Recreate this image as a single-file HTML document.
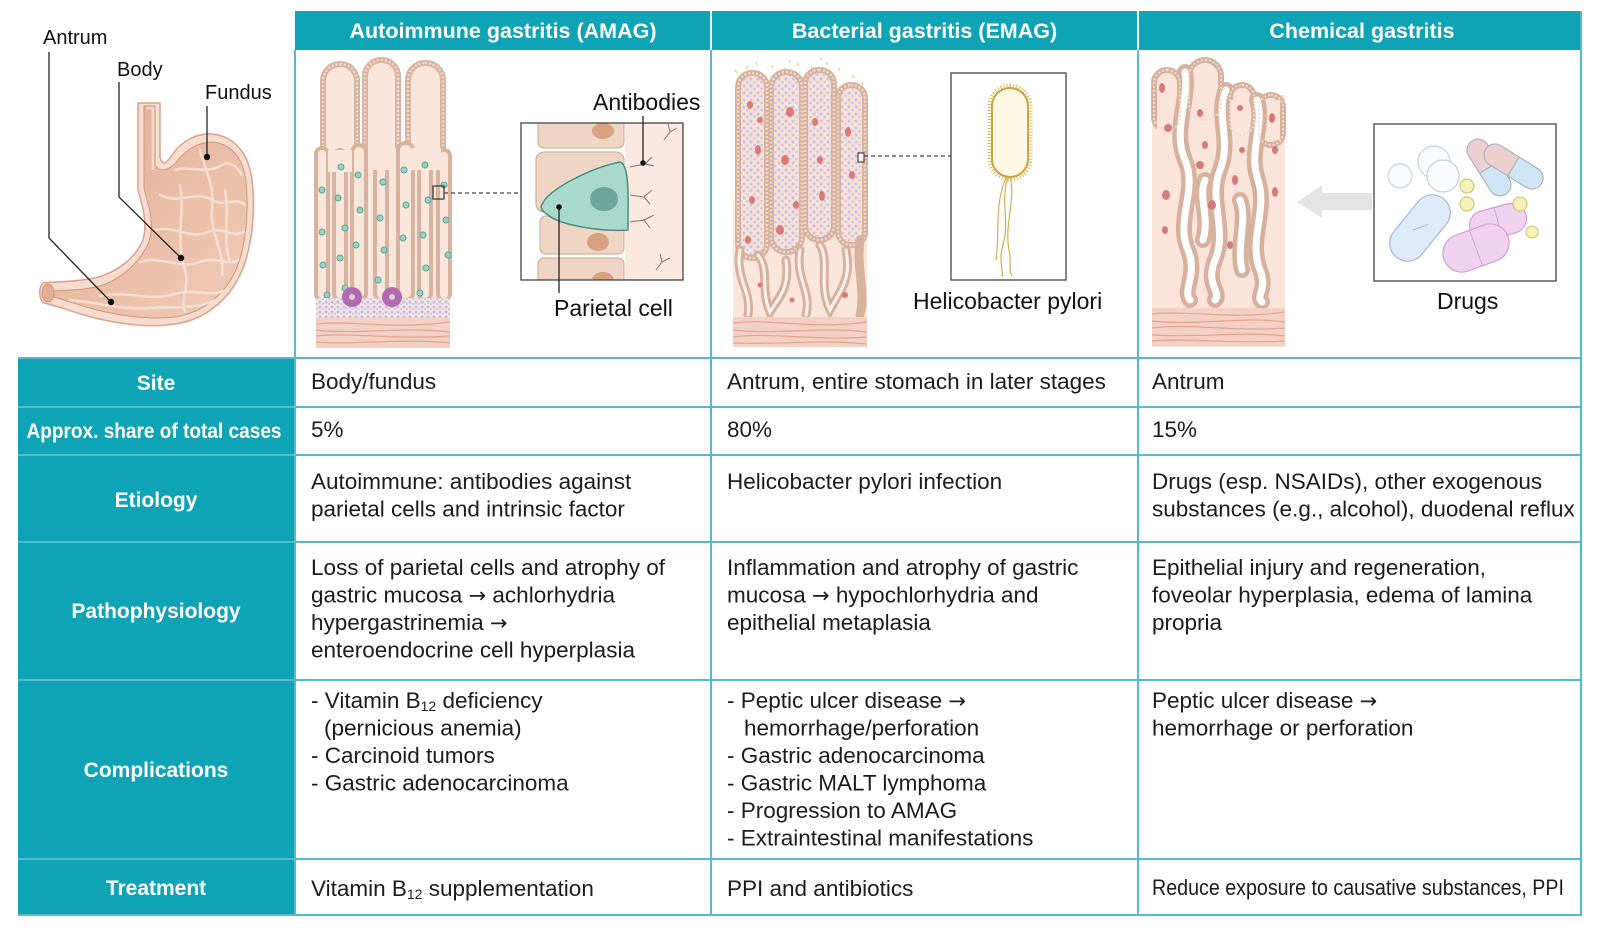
<!DOCTYPE html>
<html><head><meta charset="utf-8">
<style>
html,body{margin:0;padding:0;background:#fff;}
svg{display:block;}
text{font-family:"Liberation Sans",sans-serif;}
.b{font-size:22.5px;fill:#1c1c1c;}
.h{font-size:21.5px;font-weight:bold;fill:#fff;}
.l{font-size:21px;font-weight:bold;fill:#fff;}
.c{font-size:23px;fill:#111;}
.s{font-size:20px;fill:#111;}
.ar{font-family:"DejaVu Sans",sans-serif;font-size:21px;}
</style></head><body>
<svg width="1600" height="932" viewBox="0 0 1600 932" xmlns="http://www.w3.org/2000/svg">
<defs>
<linearGradient id="sg" x1="0" y1="0" x2="1" y2="1">
<stop offset="0" stop-color="#e2ab93"/><stop offset="0.6" stop-color="#ebbfa9"/><stop offset="1" stop-color="#f0cbb9"/>
</linearGradient>
<pattern id="lav" width="7" height="7" patternUnits="userSpaceOnUse">
<rect width="7" height="7" fill="#f7e1d8"/>
<circle cx="2" cy="2" r="1.5" fill="#c6c3e2"/><circle cx="5.5" cy="5" r="1.3" fill="#cbc6e3"/>
</pattern>
<pattern id="dots" width="6" height="5" patternUnits="userSpaceOnUse">
<rect width="6" height="5" fill="#f5e6e6"/>
<circle cx="2" cy="2" r="1.6" fill="#c9bedb"/><circle cx="5" cy="4" r="1.2" fill="#d2c8df"/>
</pattern>
<clipPath id="amagbox"><rect x="521" y="123" width="162" height="157"/></clipPath>
</defs>

<!-- ===== TABLE ===== -->
<rect x="295" y="11" width="1286" height="39" fill="#0ea4b6"/>
<line x1="711" y1="11" x2="711" y2="50" stroke="#fff" stroke-width="2"/>
<line x1="1138" y1="11" x2="1138" y2="50" stroke="#fff" stroke-width="2"/>
<rect x="18" y="358" width="277" height="557" fill="#0ea4b6"/>

<g stroke="#52bccb" stroke-width="2" fill="none">
<line x1="18" y1="358" x2="1582" y2="358"/>
<line x1="18" y1="407" x2="1582" y2="407"/>
<line x1="18" y1="455" x2="1582" y2="455"/>
<line x1="18" y1="542" x2="1582" y2="542"/>
<line x1="18" y1="680" x2="1582" y2="680"/>
<line x1="18" y1="859" x2="1582" y2="859"/>
<line x1="18" y1="915" x2="1582" y2="915"/>
<line x1="295" y1="50" x2="295" y2="915"/>
<line x1="711" y1="50" x2="711" y2="915"/>
<line x1="1138" y1="50" x2="1138" y2="915"/>
<line x1="1581" y1="11" x2="1581" y2="915"/>
</g>

<!-- header text -->
<text class="h" x="503" y="38" text-anchor="middle">Autoimmune gastritis (AMAG)</text>
<text class="h" x="924.5" y="38" text-anchor="middle">Bacterial gastritis (EMAG)</text>
<text class="h" x="1362" y="38" text-anchor="middle">Chemical gastritis</text>

<!-- left labels -->
<text class="l" x="156" y="390" text-anchor="middle">Site</text>
<text class="l" x="154" y="438" text-anchor="middle" textLength="255" lengthAdjust="spacingAndGlyphs">Approx. share of total cases</text>
<text class="l" x="156" y="507" text-anchor="middle">Etiology</text>
<text class="l" x="156" y="618" text-anchor="middle">Pathophysiology</text>
<text class="l" x="156" y="777" text-anchor="middle">Complications</text>
<text class="l" x="156" y="895" text-anchor="middle">Treatment</text>

<!-- body text col1 -->
<text class="b" x="311" y="389">Body/fundus</text>
<text class="b" x="311" y="437">5%</text>
<text class="b" x="311" y="489">Autoimmune: antibodies against</text>
<text class="b" x="311" y="516.5">parietal cells and intrinsic factor</text>
<text class="b" x="311" y="575">Loss of parietal cells and atrophy of</text>
<text class="b" x="311" y="602.5">gastric mucosa <tspan class="ar">→</tspan> achlorhydria</text>
<text class="b" x="311" y="630">hypergastrinemia <tspan class="ar">→</tspan></text>
<text class="b" x="311" y="657.5">enteroendocrine cell hyperplasia</text>
<text class="b" x="311" y="708">- Vitamin B<tspan font-size="14" dy="3">12</tspan><tspan dy="-3"> deficiency</tspan></text>
<text class="b" x="324" y="735.5">(pernicious anemia)</text>
<text class="b" x="311" y="763">- Carcinoid tumors</text>
<text class="b" x="311" y="790.5">- Gastric adenocarcinoma</text>
<text class="b" x="311" y="896">Vitamin B<tspan font-size="14" dy="3">12</tspan><tspan dy="-3"> supplementation</tspan></text>

<!-- col2 -->
<text class="b" x="727" y="389">Antrum, entire stomach in later stages</text>
<text class="b" x="727" y="437">80%</text>
<text class="b" x="727" y="489">Helicobacter pylori infection</text>
<text class="b" x="727" y="575">Inflammation and atrophy of gastric</text>
<text class="b" x="727" y="602.5">mucosa <tspan class="ar">→</tspan> hypochlorhydria and</text>
<text class="b" x="727" y="630">epithelial metaplasia</text>
<text class="b" x="727" y="708">- Peptic ulcer disease <tspan class="ar">→</tspan></text>
<text class="b" x="744" y="735.5">hemorrhage/perforation</text>
<text class="b" x="727" y="763">- Gastric adenocarcinoma</text>
<text class="b" x="727" y="790.5">- Gastric MALT lymphoma</text>
<text class="b" x="727" y="818">- Progression to AMAG</text>
<text class="b" x="727" y="845.5">- Extraintestinal manifestations</text>
<text class="b" x="727" y="896">PPI and antibiotics</text>

<!-- col3 -->
<text class="b" x="1152" y="389">Antrum</text>
<text class="b" x="1152" y="437">15%</text>
<text class="b" x="1152" y="489">Drugs (esp. NSAIDs), other exogenous</text>
<text class="b" x="1152" y="516.5">substances (e.g., alcohol), duodenal reflux</text>
<text class="b" x="1152" y="575">Epithelial injury and regeneration,</text>
<text class="b" x="1152" y="602.5">foveolar hyperplasia, edema of lamina</text>
<text class="b" x="1152" y="630">propria</text>
<text class="b" x="1152" y="708">Peptic ulcer disease <tspan class="ar">→</tspan></text>
<text class="b" x="1152" y="735.5">hemorrhage or perforation</text>
<text class="b" x="1152" y="895" textLength="412" lengthAdjust="spacingAndGlyphs">Reduce exposure to causative substances, PPI</text>

<!-- ===== STOMACH ===== -->
<path d="M138,103 L160,103 L160,157 C162,166 166,164 172,155 C182,140 198,133 212,134 C232,136 248,150 252,180 C256,210 252,250 240,275 C228,300 205,320 175,324 C150,328 120,324 95,318 C75,313 58,306 44,303 C39,300 38,288 43,283 C55,281 70,283 95,278 C118,272 135,258 143,240 C148,222 142,205 138,190 Z" fill="#f5dccf" stroke="#d8a38d" stroke-width="1.5"/>
<path d="M144,106 L155,106 L155,165 C160,174 170,170 178,160 C188,148 200,142 213,142 C230,144 243,156 246,182 C249,212 246,248 235,272 C223,296 202,313 175,317 C150,320 122,316 97,310 C78,305 62,299 50,296 L49,291 C60,290 80,291 100,286 C122,279 140,262 149,242 C155,222 148,205 144,188 Z" fill="url(#sg)" stroke="#d09680" stroke-width="1"/>
<path d="M146,108 L153,108 L153,170" fill="none" stroke="#f3d4c5" stroke-width="3"/>
<ellipse cx="48" cy="293" rx="6" ry="9" fill="#e3ae98" stroke="#d09680" stroke-width="1"/>
<g fill="none" stroke="#f6e1d6" stroke-width="2.5" stroke-linecap="round" opacity="0.9">
<path d="M175,170 C190,165 205,175 222,165 C230,160 238,168 242,175"/>
<path d="M160,195 C178,205 195,190 212,200 C225,208 235,196 245,205"/>
<path d="M200,150 C205,170 215,185 212,210 C210,235 225,250 222,275"/>
<path d="M155,230 C175,225 190,240 208,232 C222,226 232,238 244,232"/>
<path d="M140,262 C160,255 180,270 200,262 C215,256 228,266 238,260"/>
<path d="M100,296 C125,290 150,302 175,294 C195,288 210,298 226,290"/>
<path d="M70,300 C95,302 120,310 150,308 C175,306 195,310 215,300"/>
<path d="M180,185 C185,210 175,240 185,270 C190,285 180,300 185,312"/>
<path d="M225,190 C230,215 222,240 230,262"/>
</g>
<!-- stomach labels -->
<text class="s" x="43" y="44">Antrum</text>
<text class="s" x="117" y="76">Body</text>
<text class="s" x="205" y="99">Fundus</text>
<g fill="none" stroke="#222" stroke-width="1.3">
<polyline points="49,52 49,238 111,302"/>
<polyline points="119,82 119,197 181,258"/>
<line x1="207" y1="106" x2="207" y2="157"/>
</g>
<circle cx="111" cy="302" r="3.2" fill="#111"/>
<circle cx="181" cy="258" r="3.2" fill="#111"/>
<circle cx="207" cy="157" r="3.2" fill="#111"/>

<!-- ===== AMAG TISSUE ===== -->
<rect x="316" y="150" width="134" height="198" fill="#fbe6dc"/>
<g fill="#fbe6dc" stroke="#d8b39f" stroke-width="6">
<rect x="323" y="64" width="34" height="105" rx="17"/>
<rect x="365" y="60" width="33" height="105" rx="16"/>
<rect x="408" y="63" width="35" height="105" rx="17"/>
</g>
<g fill="none" stroke="#efdacd" stroke-width="2.5" stroke-dasharray="2 2">
<rect x="323" y="64" width="34" height="105" rx="17"/>
<rect x="365" y="60" width="33" height="105" rx="16"/>
<rect x="408" y="63" width="35" height="105" rx="17"/>
</g>
<g fill="#fbe6dc" stroke="#d8b39f" stroke-width="4">
<rect x="316" y="148" width="12" height="152" rx="6"/>
<rect x="334" y="150" width="12" height="150" rx="6"/>
<rect x="352" y="145" width="14" height="155" rx="7"/>
<rect x="375" y="150" width="12" height="150" rx="6"/>
<rect x="398" y="143" width="15" height="157" rx="7"/>
<rect x="419" y="150" width="12" height="150" rx="6"/>
<rect x="438" y="150" width="12" height="150" rx="6"/>
</g>
<g fill="#fbe6dc" stroke="none">
<rect x="328" y="150" width="24" height="22"/>
<rect x="368" y="148" width="28" height="22"/>
<rect x="411" y="148" width="30" height="22"/>
</g>
<g fill="#99d2c5" stroke="#5aa496" stroke-width="1">
<circle cx="341" cy="167" r="3"/><circle cx="338" cy="198" r="3"/><circle cx="345" cy="228" r="3"/><circle cx="340" cy="258" r="3"/>
<circle cx="322" cy="190" r="3"/><circle cx="322" cy="232" r="3"/><circle cx="323" cy="265" r="3"/><circle cx="358" cy="175" r="3"/>
<circle cx="360" cy="210" r="3"/><circle cx="356" cy="245" r="3"/><circle cx="383" cy="182" r="3"/><circle cx="380" cy="218" r="3"/>
<circle cx="384" cy="250" r="3"/><circle cx="378" cy="280" r="3"/><circle cx="404" cy="170" r="3"/><circle cx="406" cy="205" r="3"/>
<circle cx="403" cy="238" r="3"/><circle cx="425" cy="165" r="3"/><circle cx="428" cy="200" r="3"/><circle cx="423" cy="235" r="3"/>
<circle cx="426" cy="268" r="3"/><circle cx="444" cy="185" r="3"/><circle cx="446" cy="220" r="3"/><circle cx="448" cy="255" r="3"/>
<circle cx="345" cy="288" r="3"/><circle cx="420" cy="293" r="3"/><circle cx="327" cy="295" r="3"/>
</g>
<rect x="316" y="298" width="134" height="22" fill="url(#dots)"/>
<circle cx="352" cy="297" r="10" fill="#b06aae"/><circle cx="352" cy="297" r="3" fill="#e8c6e4"/>
<circle cx="392" cy="297" r="10" fill="#b06aae"/><circle cx="392" cy="297" r="3" fill="#e8c6e4"/>
<rect x="316" y="318" width="134" height="30" fill="#f3d0c4"/>
<g fill="none" stroke="#e3a292" stroke-width="1.2">
<path d="M316,324 C350,320 390,330 450,322"/><path d="M316,330 C360,335 400,326 450,332"/>
<path d="M316,336 C350,332 395,340 450,336"/><path d="M316,342 C360,345 400,338 450,343"/>
</g>
<rect x="433" y="186" width="11" height="13" fill="none" stroke="#333" stroke-width="1.2"/>
<line x1="444" y1="193" x2="521" y2="193" stroke="#444" stroke-width="1.3" stroke-dasharray="4 3"/>

<!-- AMAG box -->
<rect x="521" y="123" width="162" height="157" fill="#fff"/>
<g clip-path="url(#amagbox)">
<rect x="625" y="123" width="58" height="157" fill="#fbe8df"/>
<g fill="#efd6c4" stroke="#c9a58f" stroke-width="1">
<rect x="538" y="110" width="86" height="38" rx="6"/>
<rect x="536" y="152" width="88" height="60" rx="8"/>
<rect x="540" y="216" width="84" height="38" rx="6"/>
<rect x="538" y="258" width="86" height="36" rx="6"/>
</g>
<ellipse cx="603" cy="131" rx="11" ry="8" fill="#d8a282"/>
<ellipse cx="598" cy="242" rx="11" ry="9" fill="#d8a282"/>
<ellipse cx="603" cy="280" rx="11" ry="8" fill="#d8a282"/>
<path d="M543,203 C548,190 590,168 620,162 C630,165 628,200 628,230 C600,232 560,225 548,215 C540,210 540,206 543,203 Z" fill="#a9d8cd" stroke="#4d8c82" stroke-width="1.5"/>
<ellipse cx="604" cy="199" rx="14" ry="12" fill="#70a699"/>
<g fill="none" stroke="#777" stroke-width="1">
<path d="M630,167 L645,164 L652,157 M645,164 L654,166"/>
<path d="M630,195 L644,197 L652,190 M644,197 L650,204"/>
<path d="M630,222 L644,220 L654,215 M644,220 L650,228"/>
<path d="M664,140 L670,132 L668,124 M670,132 L677,128"/>
<path d="M656,270 L662,262 L660,254 M662,262 L670,258"/>
</g>
</g>
<rect x="521" y="123" width="162" height="157" fill="none" stroke="#444" stroke-width="1.3"/>
<line x1="643" y1="116" x2="643" y2="163" stroke="#222" stroke-width="1.3"/>
<circle cx="643" cy="163" r="2.8" fill="#111"/>
<line x1="559" y1="207" x2="559" y2="293" stroke="#222" stroke-width="1.3"/>
<circle cx="559" cy="207" r="2.8" fill="#111"/>
<text class="c" x="593" y="110">Antibodies</text>
<text class="c" x="554" y="316">Parietal cell</text>

<!-- ===== EMAG TISSUE ===== -->
<rect x="733" y="200" width="134" height="147" fill="#fbe6dc"/>
<g stroke="#e3d27a" stroke-width="1.2">
<path d="M735,70 l2,3 M748,66 l-2,3 M760,72 l2,2 M772,65 l1,3 M785,68 l-2,3 M797,63 l2,3 M812,66 l-1,3 M826,62 l2,3 M840,68 l-2,3 M852,75 l2,3 M862,82 l1,3 M867,95 l-2,3 M866,110 l2,2 M864,125 l-1,3 M866,140 l2,3 M866,170 l-2,3 M866,190 l2,3 M768,100 l1,3 M768,140 l-1,3 M768,180 l2,3 M803,95 l-1,3 M803,150 l2,3 M803,200 l-2,3 M834,110 l1,3 M834,160 l-1,3 M834,210 l2,3 M740,80 l2,2 M756,62 l1,3 M790,60 l-1,3 M820,58 l2,2"/>
</g>
<g fill="url(#lav)" stroke="#d6b29e" stroke-width="6">
<rect x="738" y="73" width="29" height="185" rx="14"/>
<rect x="771" y="72" width="31" height="180" rx="15"/>
<rect x="805" y="70" width="29" height="170" rx="14"/>
<rect x="838" y="85" width="27" height="160" rx="13"/>
</g>
<g fill="none" stroke="#eed9cc" stroke-width="2.5" stroke-dasharray="2 2">
<rect x="738" y="73" width="29" height="185" rx="14"/>
<rect x="771" y="72" width="31" height="180" rx="15"/>
<rect x="805" y="70" width="29" height="170" rx="14"/>
<rect x="838" y="85" width="27" height="160" rx="13"/>
</g>
<g fill="#dc7a78">
<ellipse cx="750" cy="105" rx="3" ry="4"/><ellipse cx="790" cy="112" rx="4" ry="5"/><ellipse cx="758" cy="150" rx="3" ry="5"/>
<ellipse cx="815" cy="122" rx="3" ry="4"/><ellipse cx="848" cy="132" rx="3" ry="5"/><ellipse cx="785" cy="160" rx="4" ry="5"/>
<ellipse cx="752" cy="200" rx="3" ry="4"/><ellipse cx="796" cy="205" rx="3" ry="4"/><ellipse cx="822" cy="196" rx="3" ry="5"/>
<ellipse cx="852" cy="175" rx="3" ry="4"/><ellipse cx="780" cy="230" rx="4" ry="5"/><ellipse cx="748" cy="240" rx="3" ry="4"/>
<ellipse cx="820" cy="160" rx="3" ry="4"/><ellipse cx="760" cy="120" rx="3" ry="3"/>
</g>
<g fill="none" stroke="#d6b29e" stroke-width="9" stroke-linecap="round">
<path d="M740,250 C735,280 752,290 748,315"/>
<path d="M758,255 C770,270 760,290 770,312 C778,298 790,290 786,260"/>
<path d="M800,250 C795,280 812,290 806,315"/>
<path d="M820,245 C830,262 818,285 830,310 C840,290 852,280 846,250"/>
<path d="M860,240 C856,270 866,290 860,315"/>
</g>
<g fill="none" stroke="#fbf1ec" stroke-width="3" stroke-linecap="round">
<path d="M740,250 C735,280 752,290 748,315"/>
<path d="M758,255 C770,270 760,290 770,312 C778,298 790,290 786,260"/>
<path d="M800,250 C795,280 812,290 806,315"/>
<path d="M820,245 C830,262 818,285 830,310 C840,290 852,280 846,250"/>
</g>
<g fill="#dc7a78"><circle cx="792" cy="300" r="2.5"/><circle cx="845" cy="295" r="3"/><circle cx="760" cy="285" r="2.5"/></g>
<rect x="733" y="317" width="134" height="30" fill="#f3d0c4"/>
<g fill="none" stroke="#e3a292" stroke-width="1.2">
<path d="M733,323 C770,318 810,330 867,322"/><path d="M733,330 C780,335 820,326 867,332"/>
<path d="M733,337 C770,332 815,341 867,337"/><path d="M733,343 C780,345 820,339 867,344"/>
</g>
<rect x="858" y="153" width="6" height="9" fill="#fff" stroke="#333" stroke-width="1.1"/>
<line x1="864" y1="156" x2="951" y2="156" stroke="#444" stroke-width="1.3" stroke-dasharray="4 3"/>
<!-- bacterium box -->
<rect x="951" y="73" width="115" height="207" fill="#fff" stroke="#444" stroke-width="1.3"/>
<g fill="none" stroke="#d1ae55" stroke-width="1.2">
<path d="M1008,177 C1000,200 1010,220 1003,245 C998,262 1004,270 1002,277"/>
<path d="M1010,177 C1016,200 1004,225 1009,250 C1012,262 1008,270 1012,276"/>
<path d="M1006,178 C994,205 1000,235 996,260"/>
</g>
<rect x="990" y="86" width="40" height="93" rx="20" fill="none" stroke="#d8b75a" stroke-width="5" stroke-dasharray="1 2"/>
<rect x="992" y="88" width="36" height="89" rx="18" fill="#fdf8e3" stroke="#c9a445" stroke-width="2"/>
<text class="c" x="913" y="309">Helicobacter pylori</text>

<!-- ===== CHEMICAL TISSUE ===== -->
<rect x="1152" y="95" width="133" height="252" fill="#fbe4da"/>
<g fill="#fbe4da" stroke="#d6b29e" stroke-width="6">
<rect x="1154" y="70" width="26" height="60" rx="13"/>
<rect x="1189" y="60" width="32" height="60" rx="16"/>
<rect x="1230" y="85" width="24" height="50" rx="12"/>
<rect x="1259" y="95" width="24" height="50" rx="12"/>
</g>
<rect x="1157" y="100" width="123" height="40" fill="#fbe4da"/>
<g fill="none" stroke="#d6b29e" stroke-width="16" stroke-linecap="round">
<path d="M1185,72 C1190,100 1172,130 1185,160 C1198,190 1175,220 1188,250 C1198,275 1182,290 1190,300"/>
<path d="M1226,90 C1215,115 1232,140 1220,170 C1208,200 1228,230 1215,260 C1205,285 1222,292 1215,300"/>
<path d="M1257,100 C1265,125 1248,150 1258,180 C1268,210 1248,240 1260,270 C1268,290 1255,296 1262,302"/>
<path d="M1205,180 C1198,200 1210,215 1203,240"/>
<path d="M1240,200 C1248,220 1236,245 1242,270"/>
</g>
<g fill="none" stroke="#ffffff" stroke-width="7" stroke-linecap="round">
<path d="M1185,72 C1190,100 1172,130 1185,160 C1198,190 1175,220 1188,250 C1198,275 1182,290 1190,300"/>
<path d="M1226,90 C1215,115 1232,140 1220,170 C1208,200 1228,230 1215,260 C1205,285 1222,292 1215,300"/>
<path d="M1257,100 C1265,125 1248,150 1258,180 C1268,210 1248,240 1260,270 C1268,290 1255,296 1262,302"/>
<path d="M1205,180 C1198,200 1210,215 1203,240"/>
<path d="M1240,200 C1248,220 1236,245 1242,270"/>
</g>
<g fill="none" stroke="#efdbcf" stroke-width="2" stroke-dasharray="2 2">
<rect x="1154" y="70" width="26" height="60" rx="13"/>
<rect x="1189" y="60" width="32" height="60" rx="16"/>
<rect x="1230" y="85" width="24" height="50" rx="12"/>
<rect x="1259" y="95" width="24" height="50" rx="12"/>
</g>
<g fill="#d77a7a">
<ellipse cx="1162" cy="88" rx="3" ry="5"/><ellipse cx="1168" cy="128" rx="4" ry="4"/><ellipse cx="1200" cy="113" rx="3" ry="4"/>
<ellipse cx="1240" cy="108" rx="3" ry="3"/><ellipse cx="1205" cy="145" rx="3" ry="4"/><ellipse cx="1272" cy="118" rx="3" ry="5"/>
<ellipse cx="1242" cy="150" rx="3" ry="3"/><ellipse cx="1166" cy="195" rx="4" ry="5"/><ellipse cx="1200" cy="165" rx="4" ry="4"/>
<ellipse cx="1235" cy="180" rx="3" ry="5"/><ellipse cx="1275" cy="192" rx="3" ry="5"/><ellipse cx="1212" cy="205" rx="4" ry="5"/>
<ellipse cx="1165" cy="230" rx="3" ry="4"/><ellipse cx="1230" cy="245" rx="3" ry="4"/><ellipse cx="1275" cy="150" rx="3" ry="4"/>
</g>
<rect x="1152" y="308" width="133" height="38" fill="#f3d0c4"/>
<g fill="none" stroke="#e3a292" stroke-width="1.2">
<path d="M1152,314 C1190,310 1230,320 1285,312"/><path d="M1152,321 C1200,326 1240,316 1285,322"/>
<path d="M1152,328 C1190,323 1235,332 1285,328"/><path d="M1152,335 C1200,338 1240,331 1285,336"/>
<path d="M1152,341 C1190,338 1235,344 1285,341"/>
</g>
<!-- arrow -->
<polygon points="1297,202 1322,185 1322,193 1372,193 1372,210 1322,210 1322,218" fill="#e4e4e4"/>
<!-- drugs box -->
<rect x="1374" y="124" width="182" height="157" fill="#fff" stroke="#444" stroke-width="1.3"/>
<g fill="#fafcfe" stroke="#c5d0da" stroke-width="1.2">
<circle cx="1400" cy="176" r="12"/><circle cx="1434" cy="162" r="16"/><circle cx="1443" cy="176" r="16"/>
</g>
<g transform="translate(1489,167.5) rotate(57.8)" stroke="#a9b4c2" stroke-width="1.2">
<path d="M0,-11 L-20.5,-11 A11,11 0 0 0 -20.5,11 L0,11 Z" fill="#edcfcf"/>
<path d="M0,-11 L20.5,-11 A11,11 0 0 1 20.5,11 L0,11 Z" fill="#cfe6f7"/>
</g>
<g transform="translate(1513.5,166.5) rotate(31.9)" stroke="#a9b4c2" stroke-width="1.2">
<path d="M0,-11 L-21.8,-11 A11,11 0 0 0 -21.8,11 L0,11 Z" fill="#edcfcf"/>
<path d="M0,-11 L21.8,-11 A11,11 0 0 1 21.8,11 L0,11 Z" fill="#cfe6f7"/>
</g>
<g transform="translate(1420,228) rotate(-51)">
<rect x="-37.5" y="-18" width="75" height="36" rx="18" fill="#deecf9" stroke="#9dbad3" stroke-width="1.2"/>
<line x1="-6" y1="-4" x2="8" y2="4" stroke="#9dbad3" stroke-width="1"/>
</g>
<g transform="translate(1498,222) rotate(-15)">
<rect x="-29" y="-15" width="58" height="30" rx="15" fill="#f1d1f0" stroke="#d2a1d2" stroke-width="1.2"/>
<line x1="0" y1="-15" x2="0" y2="15" stroke="#d2a1d2"/>
</g>
<g transform="translate(1476,248) rotate(-20)">
<rect x="-34" y="-19" width="68" height="38" rx="19" fill="#f1d1f0" stroke="#d2a1d2" stroke-width="1.2"/>
<line x1="0" y1="-19" x2="0" y2="19" stroke="#d2a1d2"/>
</g>
<g fill="#f5f1b8" stroke="#d0c878" stroke-width="1.2">
<circle cx="1467" cy="186" r="7"/><circle cx="1467" cy="204" r="7"/><circle cx="1520" cy="204" r="7"/><circle cx="1532" cy="232" r="6"/>
</g>
<text class="c" x="1437" y="309">Drugs</text>
</svg>
</body></html>
